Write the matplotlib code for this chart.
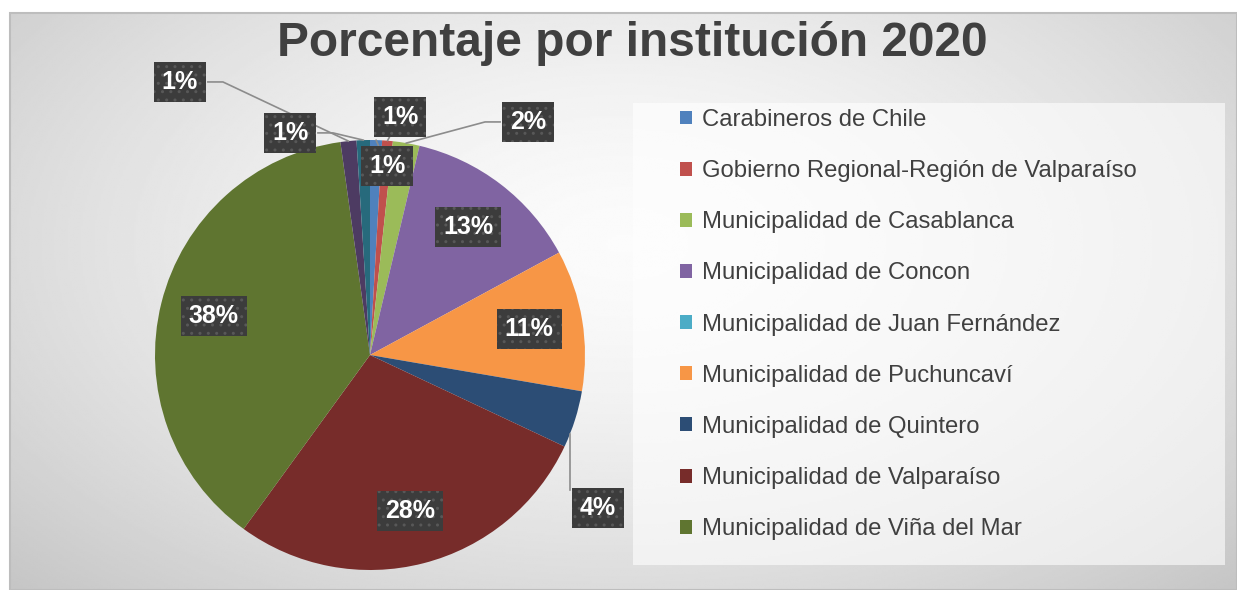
import numpy as np
import matplotlib.pyplot as plt
from matplotlib.patches import Rectangle, Patch

plt.rcParams['font.family'] = ['Liberation Sans', 'DejaVu Sans']

# datos (porcentaje por institución)
categories = ['Carabineros de Chile',
              'Gobierno Regional-Región de Valparaíso',
              'Municipalidad de Casablanca',
              'Municipalidad de Concon',
              'Municipalidad de Juan Fernández',
              'Municipalidad de Puchuncaví',
              'Municipalidad de Quintero',
              'Municipalidad de Valparaíso',
              'Municipalidad de Viña del Mar',
              'Otra institución 1',
              'Otra institución 2']
values = [0.9, 0.8, 2.0, 13.4, 0.0, 10.6, 4.3, 28.0, 37.8, 1.2, 1.0]
pct_labels = ['1%', '1%', '2%', '13%', '', '11%', '4%', '28%', '38%', '1%', '1%']
n_legend = 9

colors = ['#4F81BD', '#C0504D', '#9BBB59', '#8064A2', '#4BACC6', '#F79646',
          '#2C4D75', '#772C2A', '#5F7530', '#4D3B62', '#276A7C']

# posiciones de etiquetas fuera del pie (en radios), el resto va dentro
outside = {0: (0.08, 0.88), 1: (0.14, 1.107), 2: (0.735, 1.084),
           6: (1.06, -0.712), 9: (-0.884, 1.27), 10: (-0.372, 1.033)}
elbow = {2: -1, 9: 1, 10: 1}   # lineas guia con tramo horizontal
vertical = {6}                 # linea guia vertical desde la esquina de la caja

W, H = 1237, 590
fig = plt.figure(figsize=(W / 100, H / 100), dpi=100)
fig.patch.set_facecolor('white')

# fondo con degradado
bg = fig.add_axes([10 / W, 0, 1 - 10 / W, 577 / H])
yy, xx = np.mgrid[0:1:300j, 0:1:600j]
r = np.sqrt(((xx - 0.5) / 0.7) ** 2 + ((yy - 0.4) / 0.85) ** 2)
grad = 0.985 - 0.21 * r ** 1.5
bg.imshow(grad, cmap='gray', vmin=0, vmax=1, aspect='auto', extent=[0, 1, 0, 1],
          origin='upper', interpolation='bilinear')
bg.set_xlim(0, 1)
bg.set_ylim(0, 1)
bg.axis('off')
fig.patches.append(Rectangle((10 / W, 0), 1 - 10 / W, 577 / H, transform=fig.transFigure,
                             fill=False, edgecolor='#bdbdbd', lw=1.5))

# caja de leyenda
fig.patches.append(Rectangle((633 / W, 1 - 565 / H), 592 / W, 462 / H, transform=fig.transFigure,
                             facecolor='white', alpha=0.6, edgecolor='none', zorder=1))

# pie
cx, cy, rad = 370, 355, 215
half = 1.35
ax = fig.add_axes([(cx - half * rad) / W, (H - cy - half * rad) / H,
                   2 * half * rad / W, 2 * half * rad / H])
wedges, _ = ax.pie(values, colors=colors, startangle=90, counterclock=False, radius=1,
                   wedgeprops=dict(linewidth=0))
ax.set_xlim(-half, half)
ax.set_ylim(-half, half)
ax.set_aspect('equal')
ax.axis('off')

box = dict(boxstyle='square,pad=0.32', facecolor='#3c3c3c', edgecolor='#585858',
           linewidth=0, hatch='..')
hw, hh = 0.13, 0.085
for i, w in enumerate(wedges):
    if not pct_labels[i]:
        continue
    mid = np.deg2rad((w.theta1 + w.theta2) / 2)
    ex, ey = np.cos(mid), np.sin(mid)
    if i in outside:
        tx, ty = outside[i]
        if i in elbow:
            s = elbow[i]
            ax.plot([tx + s * hw, tx + s * (hw + 0.07), ex], [ty, ty, ey],
                    color='#8c8c8c', lw=1.2, zorder=4, clip_on=False)
            ax.text(tx, ty, pct_labels[i], ha='center', va='center', fontsize=18,
                    fontweight='bold', color='white', bbox=box, zorder=5)
        elif i in vertical:
            lx = tx - hw
            ax.plot([lx, lx], [ty + hh, -np.sqrt(1 - lx ** 2)],
                    color='#8c8c8c', lw=1.2, zorder=4, clip_on=False)
            ax.text(tx, ty, pct_labels[i], ha='center', va='center', fontsize=18,
                    fontweight='bold', color='white', bbox=box, zorder=5)
        else:
            ax.annotate(pct_labels[i], xy=(ex, ey), xytext=(tx, ty), ha='center', va='center',
                        fontsize=18, fontweight='bold', color='white', bbox=box,
                        annotation_clip=False, zorder=5,
                        arrowprops=dict(arrowstyle='-', color='#8c8c8c', lw=1.2,
                                        shrinkA=0, shrinkB=0))
    else:
        ax.text(0.75 * ex, 0.75 * ey, pct_labels[i], ha='center', va='center',
                fontsize=18, fontweight='bold', color='white', bbox=box, zorder=5)

# titulo
fig.text(632 / W, 1 - 44 / H, 'Porcentaje por institución 2020', ha='center', va='center',
         fontsize=34.5, fontweight='bold', color='#404040')

handles = [Patch(facecolor=c, edgecolor='none') for c in colors[:n_legend]]
leg = fig.legend(handles, categories[:n_legend], loc='upper left',
                 bbox_to_anchor=(680 / W, 1 - 109 / H), frameon=False, fontsize=17.2,
                 labelspacing=1.22, handlelength=0.52, handleheight=0.52,
                 handletextpad=0.42, borderpad=0, borderaxespad=0, labelcolor='#404040')
leg.set_zorder(3)

fig.savefig('out.png', dpi=100, facecolor='white')
